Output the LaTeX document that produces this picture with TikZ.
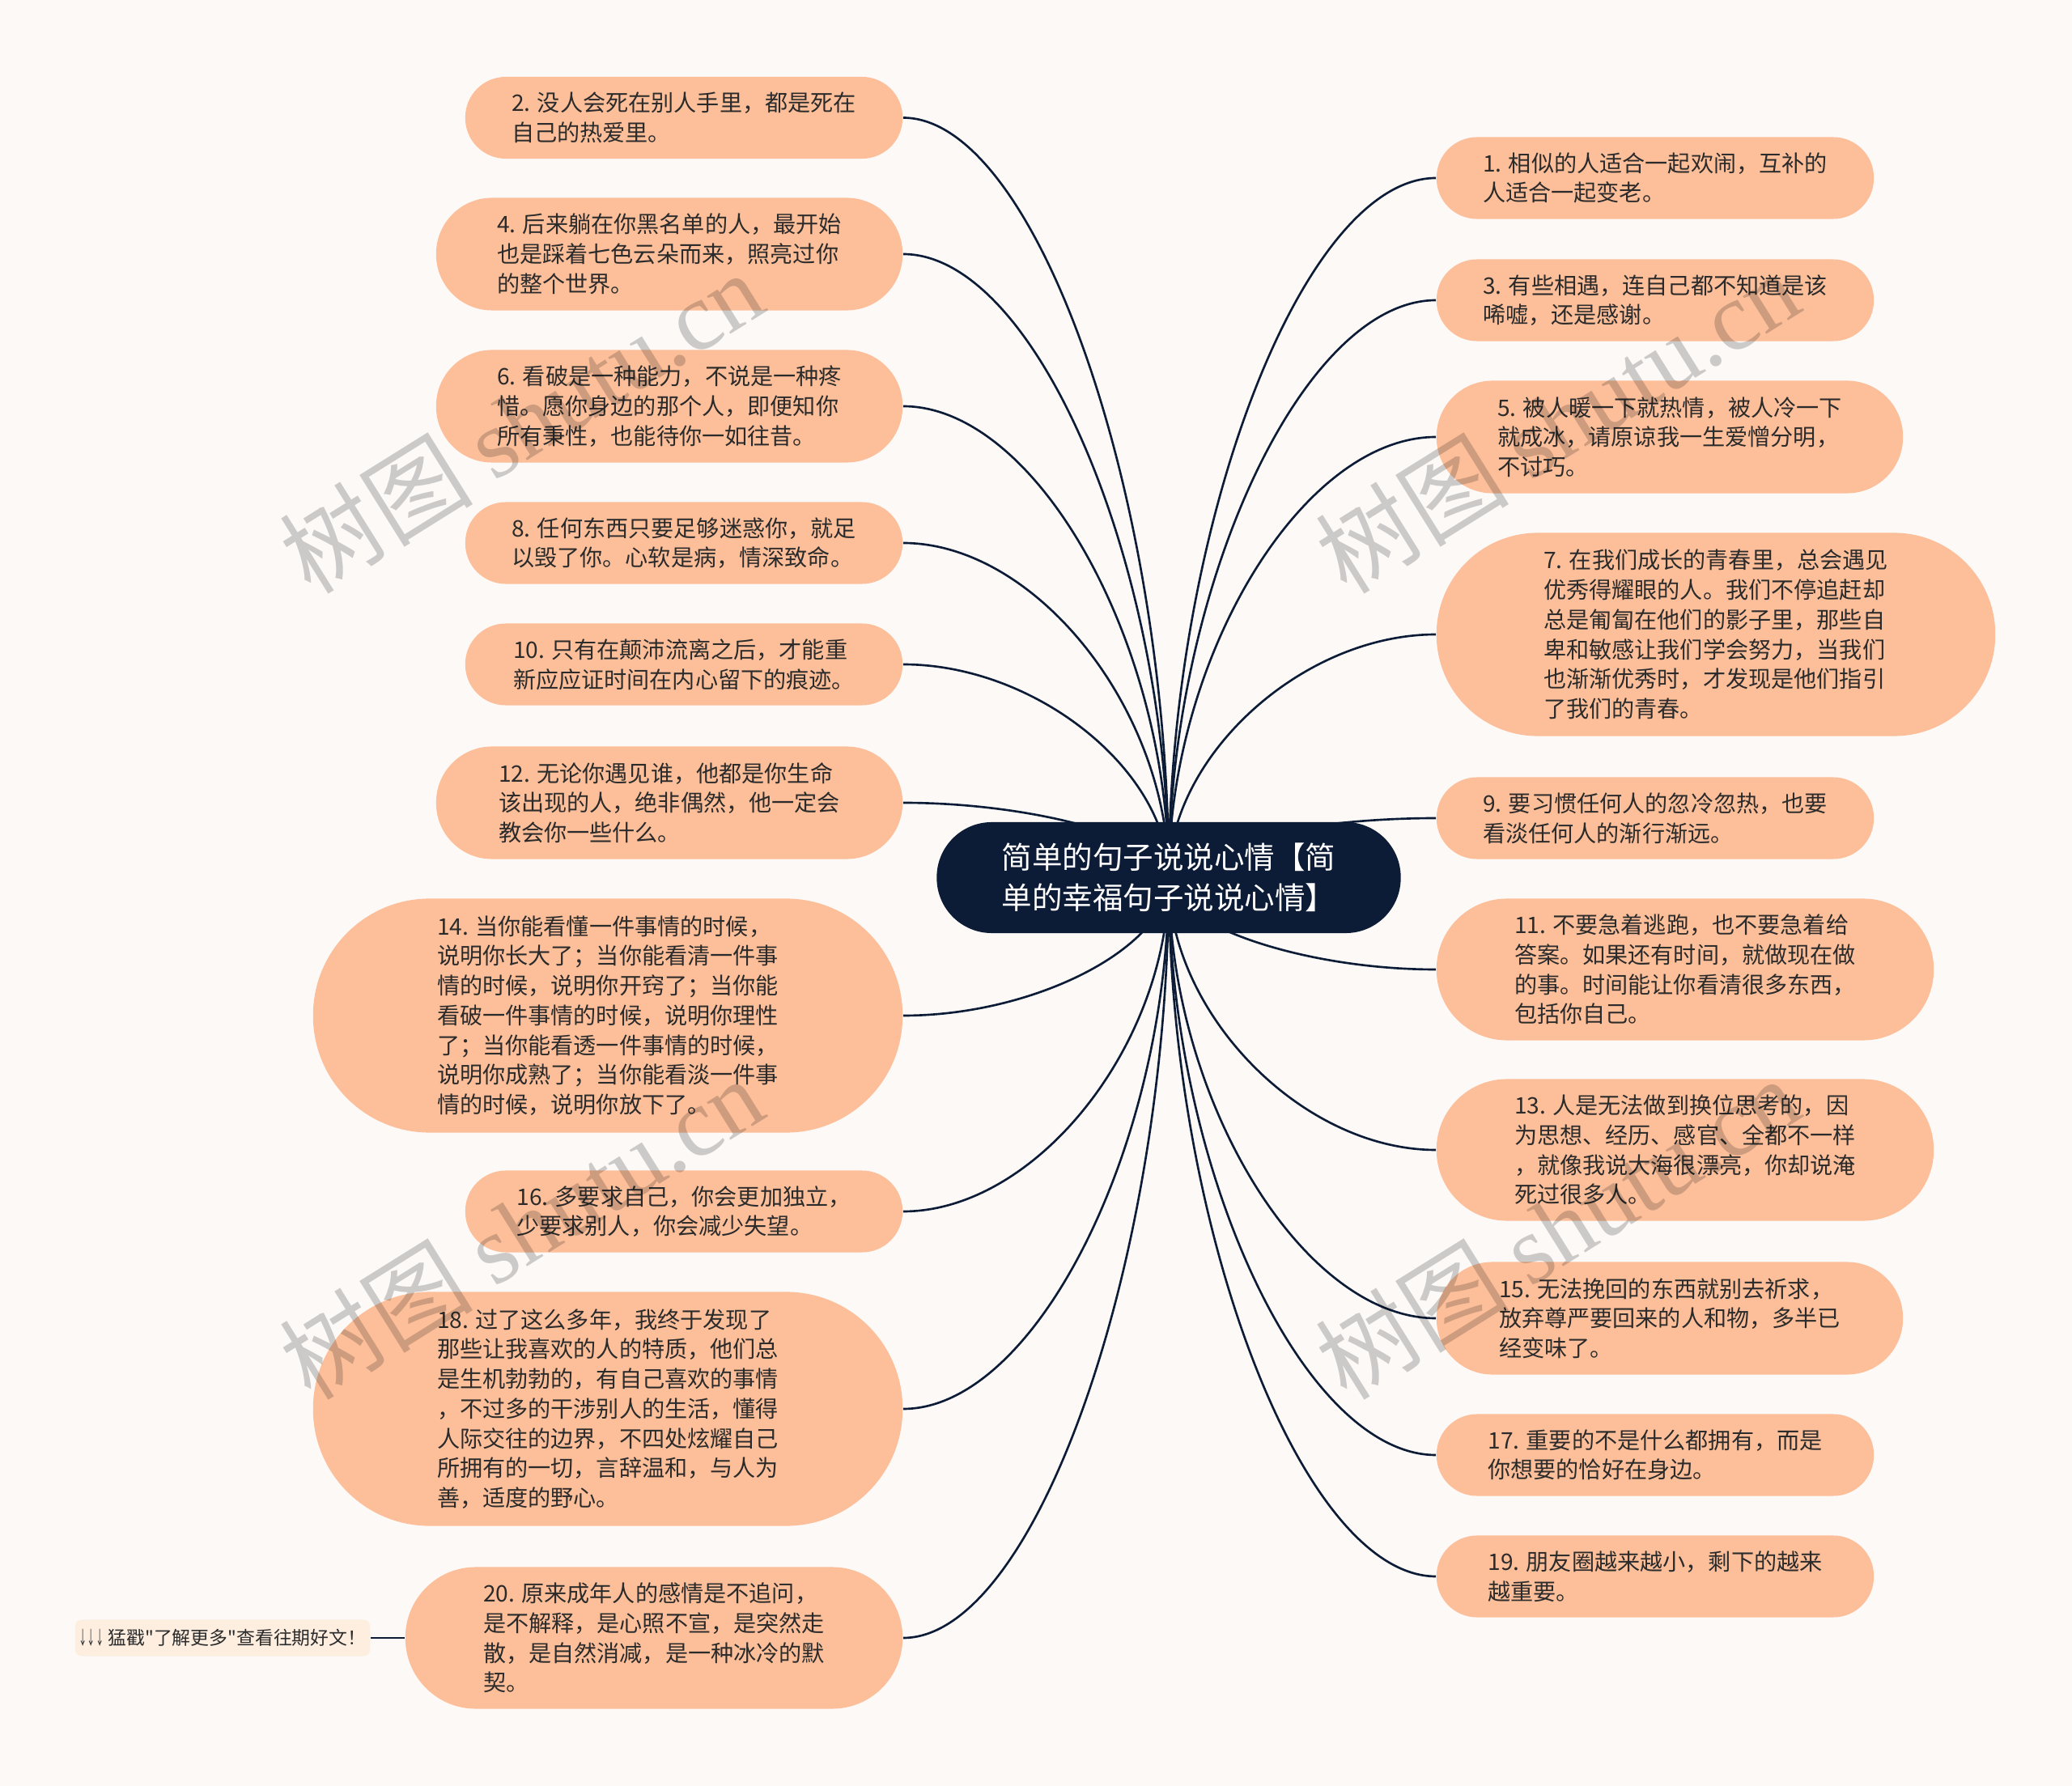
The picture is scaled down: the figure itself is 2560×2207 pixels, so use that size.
\documentclass[tikz,border=0pt]{standalone}
\usepackage{fontspec}
\usepackage{graphicx}
\setmainfont{Noto Sans CJK SC}
\newfontfamily\cjkplain{Noto Sans CJK SC}
\newfontfamily\wmlatin{Liberation Serif}
\usetikzlibrary{calc}
\definecolor{bgc}{HTML}{FCF9F7}
\definecolor{peach}{HTML}{FDBF9A}
\definecolor{navy}{HTML}{0D1C36}
\definecolor{txt}{HTML}{2B2B2B}
\definecolor{cream}{HTML}{FDEEE0}
\pgfdeclarelayer{bgl}
\pgfdeclarelayer{edgel}
\pgfsetlayers{bgl,edgel,main}
\tikzset{
  pill/.style={fill=peach, text=txt, align=left, inner sep=0pt,
    font=\fontsize{8}{10.44}\selectfont},
  sA/.style={pill, minimum width=5.40cm, minimum height=1.01cm, rounded corners=0.50cm},
  sB/.style={pill, minimum width=5.76cm, minimum height=1.39cm, rounded corners=0.69cm},
  sC/.style={pill, minimum width=6.14cm, minimum height=1.75cm, rounded corners=0.87cm},
  sD/.style={pill, minimum width=6.90cm, minimum height=2.51cm, rounded corners=1.25cm},
  sE/.style={pill, minimum width=7.28cm, minimum height=2.89cm, rounded corners=1.44cm},
  rootbox/.style={fill=navy, text=white, align=left, inner sep=0pt,
    minimum width=5.73cm, minimum height=1.37cm, rounded corners=0.68cm,
    font=\fontsize{10.67}{14.2}\selectfont},
  footbox/.style={fill=cream, text=txt, inner sep=0pt, minimum width=3.64cm,
    minimum height=0.45cm, rounded corners=0.08cm, font=\cjkplain\fontsize{6.5}{8}\selectfont},
  edge/.style={draw=navy, line width=0.75pt},
  wm/.style={text=black, text opacity=0.19, font=\fontsize{34}{40}\selectfont, inner sep=0pt}
}
\begin{document}
\begin{tikzpicture}[x=0.01cm, y=-0.01cm]
\begin{pgfonlayer}{bgl}
\fill[bgc] (0,0) rectangle (2560,2207);
\end{pgfonlayer}
\useasboundingbox (0,0) rectangle (2560,2207);

\node[rootbox] (ctr) at (1444,1084.5) {简单的句子说说心情【简\\单的幸福句子说说心情】};

% left side
\node[sA] (n2) at (845,145.5) {2. 没人会死在别人手里，都是死在\\自己的热爱里。};
\node[sB] (n4) at (827,314) {4. 后来躺在你黑名单的人，最开始\\也是踩着七色云朵而来，照亮过你\\的整个世界。};
\node[sB] (n6) at (827,502) {6. 看破是一种能力，不说是一种疼\\惜。愿你身边的那个人，即便知你\\所有秉性，也能待你一如往昔。};
\node[sA] (n8) at (845,671) {8. 任何东西只要足够迷惑你，就足\\以毁了你。心软是病，情深致命。};
\node[sA] (n10) at (845,821) {10. 只有在颠沛流离之后，才能重\\新应应证时间在内心留下的痕迹。};
\node[sB] (n12) at (827,992) {12. 无论你遇见谁，他都是你生命\\该出现的人，绝非偶然，他一定会\\教会你一些什么。};
\node[sE] (n14) at (751,1255) {14. 当你能看懂一件事情的时候，\\说明你长大了；当你能看清一件事\\情的时候，说明你开窍了；当你能\\看破一件事情的时候，说明你理性\\了；当你能看透一件事情的时候，\\说明你成熟了；当你能看淡一件事\\情的时候，说明你放下了。};
\node[sA] (n16) at (845,1497) {16. 多要求自己，你会更加独立，\\少要求别人，你会减少失望。};
\node[sE] (n18) at (751,1741) {18. 过了这么多年，我终于发现了\\那些让我喜欢的人的特质，他们总\\是生机勃勃的，有自己喜欢的事情\\，不过多的干涉别人的生活，懂得\\人际交往的边界，不四处炫耀自己\\所拥有的一切，言辞温和，与人为\\善，适度的野心。};
\node[sC] (n20) at (808,2024) {20. 原来成年人的感情是不追问，\\是不解释，是心照不宣，是突然走\\散，是自然消减，是一种冰冷的默\\契。};
\node[footbox] (foot) at (275,2024) {\scalebox{0.45}[1]{↓↓↓} 猛戳"了解更多"查看往期好文！};

% right side
\node[sA] (n1) at (2045,220) {1. 相似的人适合一起欢闹，互补的\\人适合一起变老。};
\node[sA] (n3) at (2045,371) {3. 有些相遇，连自己都不知道是该\\唏嘘，还是感谢。};
\node[sB] (n5) at (2063,540) {5. 被人暖一下就热情，被人冷一下\\就成冰，请原谅我一生爱憎分明，\\不讨巧。};
\node[sD] (n7) at (2120,784) {7. 在我们成长的青春里，总会遇见\\优秀得耀眼的人。我们不停追赶却\\总是匍匐在他们的影子里，那些自\\卑和敏感让我们学会努力，当我们\\也渐渐优秀时，才发现是他们指引\\了我们的青春。};
\node[sA] (n9) at (2045,1011) {9. 要习惯任何人的忽冷忽热，也要\\看淡任何人的渐行渐远。};
\node[sC] (n11) at (2082,1198) {11. 不要急着逃跑，也不要急着给\\答案。如果还有时间，就做现在做\\的事。时间能让你看清很多东西，\\包括你自己。};
\node[sC] (n13) at (2082,1421) {13. 人是无法做到换位思考的，因\\为思想、经历、感官、全都不一样\\，就像我说大海很漂亮，你却说淹\\死过很多人。};
\node[sB] (n15) at (2063,1629) {15. 无法挽回的东西就别去祈求，\\放弃尊严要回来的人和物，多半已\\经变味了。};
\node[sA] (n17) at (2045,1798) {17. 重要的不是什么都拥有，而是\\你想要的恰好在身边。};
\node[sA] (n19) at (2045,1948) {19. 朋友圈越来越小，剩下的越来\\越重要。};

\coordinate (o) at (ctr.center);
\begin{pgfonlayer}{edgel}
\foreach \n in {n2,n4,n6,n8,n10,n12,n14,n16,n18,n20} {
  \draw[edge] (o) .. controls ($(o)!0.5!(o|-\n.east)$) and ($(\n.east)!0.5!(\n.east-|o)$) .. (\n.east);
}
\foreach \n in {n1,n3,n5,n7,n9,n11,n13,n15,n17,n19} {
  \draw[edge] (o) .. controls ($(o)!0.5!(o|-\n.west)$) and ($(\n.west)!0.5!(\n.west-|o)$) .. (\n.west);
}
\draw[edge] (foot.east) -- (n20.west);
\end{pgfonlayer}

% watermarks
\node[wm, rotate=32] (wm1) at (644,521) {树图 {\wmlatin shutu.cn}};
\node[wm, rotate=32] (wm2) at (1924,521) {树图 {\wmlatin shutu.cn}};
\node[wm, rotate=32] (wm3) at (644,1517) {树图 {\wmlatin shutu.cn}};
\node[wm, rotate=32] (wm4) at (1924,1517) {树图 {\wmlatin shutu.cn}};
\end{tikzpicture}
\end{document}
